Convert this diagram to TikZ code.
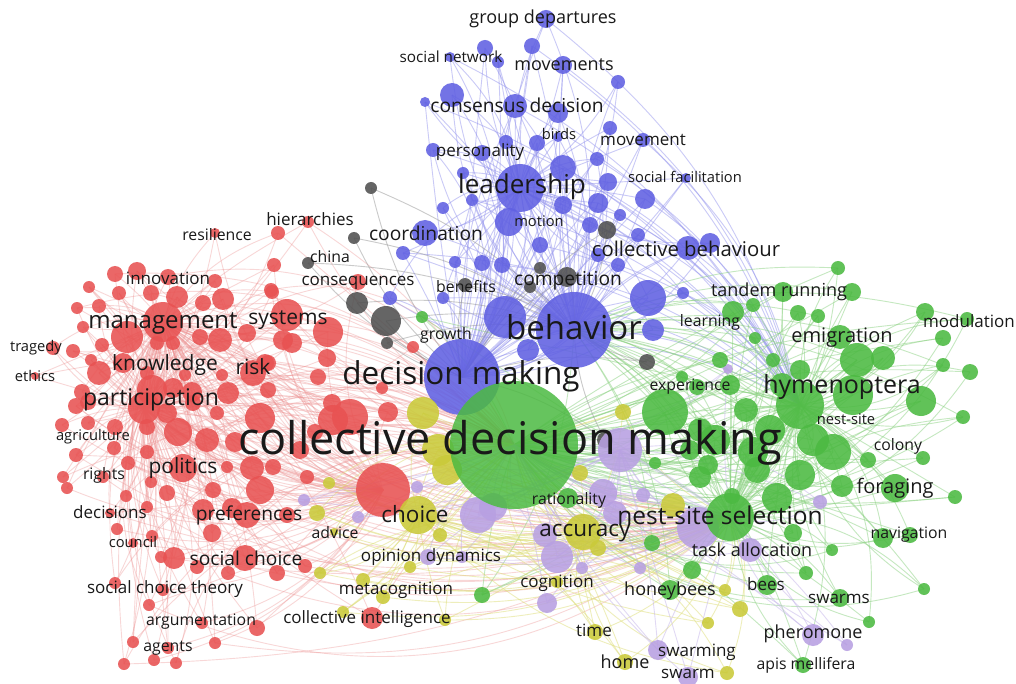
\documentclass[tikz,border=0pt]{standalone}
\usepackage{fontspec}
\setmainfont{Open Sans}
\definecolor{cR}{RGB}{232,82,82}
\definecolor{cB}{RGB}{96,96,226}
\definecolor{cG}{RGB}{76,186,66}
\definecolor{cY}{RGB}{202,202,58}
\definecolor{cP}{RGB}{184,160,226}
\definecolor{cK}{RGB}{80,80,80}
\definecolor{eR}{RGB}{238,150,150}
\definecolor{eB}{RGB}{150,150,238}
\definecolor{eG}{RGB}{140,210,130}
\definecolor{eY}{RGB}{222,222,120}
\definecolor{eP}{RGB}{196,180,234}
\definecolor{eK}{RGB}{150,150,150}
\definecolor{txt}{RGB}{25,25,25}
\tikzset{
  edgeR/.style={draw=eR,line width=0.9pt,draw opacity=0.38},
  edgeB/.style={draw=eB,line width=0.9pt,draw opacity=0.5},
  edgeG/.style={draw=eG,line width=0.9pt,draw opacity=0.5},
  edgeY/.style={draw=eY,line width=0.9pt,draw opacity=0.5},
  edgeP/.style={draw=eP,line width=0.9pt,draw opacity=0.5},
  edgeK/.style={draw=eK,line width=0.9pt,draw opacity=0.5},
  bubR/.style={fill=cR,fill opacity=0.88},
  bubB/.style={fill=cB,fill opacity=0.88},
  bubG/.style={fill=cG,fill opacity=0.88},
  bubY/.style={fill=cY,fill opacity=0.88},
  bubP/.style={fill=cP,fill opacity=0.88},
  bubK/.style={fill=cK,fill opacity=0.88},
  lbl/.style={text=txt,inner sep=0pt,anchor=center}
}
\def\redlist{278/233/7,215/233/5,308/222/6,274/265/7,115/274/8,137/271/9,168/277/8,215/281/7,89/287/6,119/293/7,151/293/8,177/297/11,203/303/8,223/299/11,77/308/6,99/306/7,271/290/7,163/322/20,127/337/16,83/327/6,287/315/16,328/332/15,200/337/8,220/340/12,247/333/9,53/348/7,73/351/7,102/345/7,157/343/7,173/343/7,35/376/4,91/360/6,99/373/12,123/363/10,147/373/7,185/375/6,222/375/6,253/373/13,268/363/8,283/340/10,318/377/8,268/390/8,82/392/8,152/390/15,173/388/10,192/392/10,228/393/11,76/406/8,88/402/8,144/408/16,167/413/10,193/403/8,217/413/7,260/418/15,333/420/15,62/425/7,88/423/7,115/427/8,147/427/8,178/432/14,207/440/12,235/442/10,76/455/7,114/448/7,147/452/7,128/463/7,63/477/6,67/488/6,103/477/6,151/482/6,183/468/14,227/467/6,252/468/12,273/467/8,307/477/7,260/490/14,213/490/8,167/493/8,126/496/6,147/507/6,110/513/5,203/510/11,232/508/10,247/515/13,287/515/8,117/529/6,152/536/6,133/543/5,212/533/9,161/557/6,174/558/11,197/567/7,228/573/7,245/558/13,277/573/8,305/566/7,115/583/6,163/590/6,149/605/6,202/623/6,257/628/8,215/643/6,133/642/6,168/648/6,124/664/6,154/660/6,176/663/6,272/292/7,292/343/10,265/363/9,327/358/9,332/403/9,350/417/18,388/412/10,382/388/6,358/282/8,413/347/6,383/490/27,372/618/11,300/450/9,315/432/8}
\def\graylist{371/188/6,354/238/6,607/230/9,540/268/6,567/277/10,530/287/6,465/285/7,357/303/11,386/321/15,387/343/6,647/362/8,605/440/8,308/263/6}
\def\bluelist{546/19/9,485/48/8,532/46/8,498/62/6,563/65/9,618/82/7,450/57/5,452/95/12,515/106/12,558/113/10,425/102/5,610/128/7,643/140/7,537/143/8,506/142/7,482/153/8,433/150/7,558/137/5,597/159/7,608/182/9,645/199/10,686/178/5,598/203/10,563/205/9,463/173/6,443/208/6,472/200/6,425/233/13,638/235/7,520/188/24,563/168/13,509/222/14,688/248/12,710/243/10,618/265/7,648/298/18,683/293/6,653/330/11,403/253/7,482/263/8,502/265/8,598/255/7,443/298/6,390/298/7,528/350/11,505/317/21,540/245/8,455/262/6,620/215/6,590/225/8,574/330/38,462/377/38}
\def\greenlist{838/268/7,783/292/10,852/292/9,733/312/11,753/305/7,798/313/8,818/316/7,925/312/9,967/319/7,943/338/8,755/338/6,840/337/12,773/360/7,800/370/10,857/360/17,883/358/12,943/365/7,970/372/8,697/387/8,746/410/12,782/385/12,730/385/10,853/395/20,921/401/15,963/417/7,665/412/23,813/440/16,833/452/18,868/460/8,923/458/7,682/377/6,753/452/15,757/470/13,800/475/15,708/465/10,655/463/6,700/477/11,842/486/11,895/488/14,955/497/7,732/496/8,777/498/15,793/533/9,832/550/6,883/538/10,910/535/8,652/543/8,692/570/9,670/590/10,767/585/10,806/573/7,840/598/9,924/589/6,869/622/6,803/665/8,568/498/10,482/595/8,422/317/6,770/430/15,700/430/12,715/440/15,690/450/10,720/360/8,800/405/24,730/517/24}
\def\yellowlist{423/413/16,438/450/16,447/470/15,418/515/19,440/535/7,329/483/6,317/513/8,334/532/4,320/573/6,343/612/6,410/567/6,363/580/7,383/597/7,445/620/6,583/532/18,598/548/8,557/582/6,595/632/8,625/662/8,623/412/8,580/473/8,725/590/6,740/609/8,708/623/6,727/673/7,673/505/12}
\def\purplelist{304/500/6,358/517/6,417/487/6,478/515/18,493/507/14,428/557/8,462/557/6,545/535/12,557/557/16,582/568/6,547/603/10,603/493/14,615/513/12,643/495/7,640/568/6,698/528/21,750/550/12,820/502/7,813/635/11,847/645/6,658/650/10,688/677/10,728/369/5,620/450/22}
\begin{document}
\begin{tikzpicture}[x=1pt,y=-1pt]
\fill[white] (0,0) rectangle (1016,684);
\useasboundingbox (0,0) rectangle (1016,684);
% hubs
\coordinate (cdm) at (514,445);
\coordinate (dm) at (462,377);
\coordinate (beh) at (574,330);
\coordinate (lead) at (520,188);
\coordinate (hym) at (800,405);
\coordinate (nss) at (730,517);
\coordinate (mgmt) at (163,322);
\coordinate (part) at (144,408);
\coordinate (chc) at (383,490);
\coordinate (chy) at (418,515);
\coordinate (acc) at (583,532);
\coordinate (pur) at (620,450);
\coordinate (cbh) at (688,248);
% coordinates
\foreach \x/\y/\r [count=\i] in \redlist {\coordinate (R\i) at (\x,\y);}
\foreach \x/\y/\r [count=\i] in \graylist {\coordinate (K\i) at (\x,\y);}
\foreach \x/\y/\r [count=\i] in \bluelist {\coordinate (B\i) at (\x,\y);}
\foreach \x/\y/\r [count=\i] in \greenlist {\coordinate (G\i) at (\x,\y);}
\foreach \x/\y/\r [count=\i] in \yellowlist {\coordinate (Y\i) at (\x,\y);}
\foreach \x/\y/\r [count=\i] in \purplelist {\coordinate (P\i) at (\x,\y);}
% edges
\foreach \x/\y/\r [count=\i, evaluate=\i as \bb using {mod(\i,9)*6-24}] in \redlist {
  \draw[edgeR] (R\i) to[bend left=\bb] (mgmt);
  \draw[edgeR] (R\i) to[bend right=\bb] (part);
  \ifodd\i \draw[edgeR] (R\i) to[bend left=\bb+20] (cdm);
  \else \draw[edgeR] (R\i) to[bend right=22] (chc); \fi
}
\foreach \x/\y/\r [count=\i, evaluate=\i as \bb using {mod(\i,5)*5-10}] in \redlist {
  \ifnum\numexpr\i-3*(\i/3)\relax=0 \draw[edgeR] (R\i) to[bend right=22+\bb] (nss); \fi
}
\foreach \x/\y/\r [count=\i, evaluate=\i as \bb using {mod(\i,9)*6-24}] in \bluelist {
  \draw[edgeB] (B\i) to[bend left=\bb] (lead);
  \draw[edgeB] (B\i) to[bend right=\bb] (beh);
  \draw[edgeB] (B\i) to[bend left=\bb+10] (dm);
  \ifodd\i \draw[edgeB] (B\i) to[bend left=18] (hym); \fi
}
\foreach \x/\y/\r [count=\i, evaluate=\i as \bb using {mod(\i,9)*6-24}] in \greenlist {
  \draw[edgeG] (G\i) to[bend left=\bb] (hym);
  \draw[edgeG] (G\i) to[bend right=\bb] (nss);
  \draw[edgeG] (G\i) to[bend left=\bb+12] (cdm);
  \ifodd\i \draw[edgeG] (G\i) to[bend right=16] (beh); \fi
}
\foreach \x/\y/\r [count=\i, evaluate=\i as \bb using {mod(\i,9)*6-24}] in \yellowlist {
  \draw[edgeY] (Y\i) to[bend left=\bb] (chy);
  \draw[edgeY] (Y\i) to[bend right=\bb] (acc);
  \draw[edgeY] (Y\i) to[bend left=\bb+12] (cdm);
  \draw[edgeY] (Y\i) to[bend right=20] (nss);
}
\foreach \x/\y/\r [count=\i, evaluate=\i as \bb using {mod(\i,9)*6-24}] in \purplelist {
  \draw[edgeP] (P\i) to[bend left=\bb] (pur);
  \draw[edgeP] (P\i) to[bend right=\bb] (nss);
  \draw[edgeP] (P\i) to[bend left=\bb+12] (cdm);
}
\foreach \x/\y/\r [count=\i] in \graylist {
  \draw[edgeK] (K\i) to[bend left=12] (beh);
  \draw[edgeK] (K\i) to[bend right=12] (dm);
}
% bubbles
\foreach \x/\y/\r [count=\i] in \redlist {\fill[bubR] (R\i) circle[radius=\r*1pt];}
\foreach \x/\y/\r [count=\i] in \graylist {\fill[bubK] (K\i) circle[radius=\r*1pt];}
\foreach \x/\y/\r [count=\i] in \bluelist {\fill[bubB] (B\i) circle[radius=\r*1pt];}
\foreach \x/\y/\r [count=\i] in \yellowlist {\fill[bubY] (Y\i) circle[radius=\r*1pt];}
\foreach \x/\y/\r [count=\i] in \purplelist {\fill[bubP] (P\i) circle[radius=\r*1pt];}
\foreach \x/\y/\r [count=\i] in \greenlist {\fill[bubG] (G\i) circle[radius=\r*1pt];}
\fill[fill=cG,fill opacity=0.85] (cdm) circle[radius=64pt];
% labels
\foreach \t/\x/\y/\s [count=\i] in {
group departures/543/19/18, social network/451/57/15.3, movements/564/65/18,
consensus decision/517/105/19.2, birds/559/134/14.7, movement/643/140/17,
personality/480/152/17, social facilitation/685/177/14.7, leadership/522/187/26,
motion/539/221/14.7, hierarchies/310/219/17, resilience/217/235/15.8,
coordination/426/233/19.2, collective behaviour/686/249/20.3, china/330/257/15.8,
consequences/358/283/17, benefits/466/287/15.8, competition/568/281/19.2,
tandem running/779/292/18, innovation/168/278/17, management/163/323/24,
systems/288/320/21, behavior/574/327/33, learning/710/322/15.8,
modulation/969/321/17, tragedy/36/348/14.7, growth/446/335/15.8,
emigration/842/338/20, knowledge/165/365/21, risk/253/367/21,
decision making/461/376/31.5, ethics/35/376/14.7, experience/690/387/15.8,
hymenoptera/842/387/25, participation/151/400/23, nest-site/846/419/14.7,
agriculture/93/437/14.7, collective decision making/510/443/45, colony/898/446/15.8,
rights/104/475/15.8, politics/183/468/21, foraging/895/488/20,
rationality/569/500/15.8, decisions/110/512/17, preferences/249/515/19.2,
choice/415/514/22.5, nest-site selection/720/515/24.5, advice/335/533/15.8,
accuracy/585/533/22.5, council/133/542/14.7, navigation/909/535/15.8,
task allocation/752/550/18, social choice/246/558/19.2, opinion dynamics/431/557/17,
cognition/557/583/17, bees/766/584/17, metacognition/396/590/17,
honeybees/670/591/18, social choice theory/165/589/17, swarms/839/599/17,
argumentation/201/622/15.8, collective intelligence/367/619/17, time/594/630/17,
pheromone/813/634/18, agents/168/648/15.8, home/625/662/18,
swarming/697/652/17, apis mellifera/806/665/15.8, swarm/688/674/17}
{\node[lbl,font=\fontsize{\s}{\s}\selectfont] (L\i) at (\x,\y) {\t};}
\end{tikzpicture}
\end{document}
